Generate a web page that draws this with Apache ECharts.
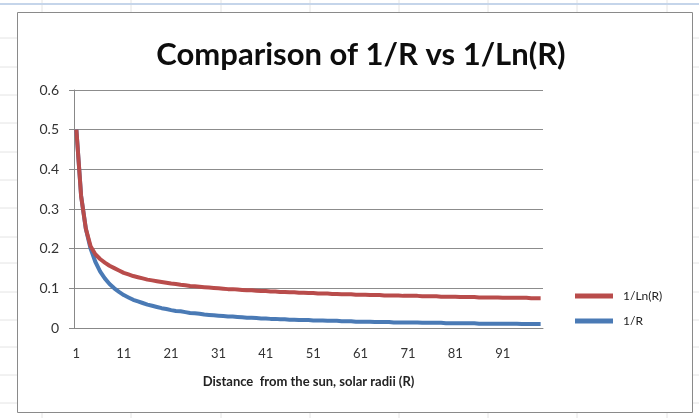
<!DOCTYPE html>
<html>
<head>
<meta charset="utf-8">
<title>Comparison of 1/R vs 1/Ln(R)</title>
<script src="https://cdn.jsdelivr.net/npm/echarts@6/dist/echarts.min.js"></script>
</head>
<body style="margin:0;padding:0;background:#fff;">
<div id="main" style="width:699px;height:418px;"></div>
<script>
// distance categories 1..99
var categories = [];
for (var i = 1; i <= 99; i++) categories.push(String(i));

var invR = [0.5,0.333,0.25,0.2,0.167,0.143,0.125,0.111,0.1,0.091,
  0.083,0.077,0.071,0.067,0.063,0.059,0.056,0.053,0.05,0.048,
  0.045,0.043,0.042,0.04,0.038,0.037,0.036,0.034,0.033,0.032,
  0.031,0.03,0.029,0.029,0.028,0.027,0.026,0.026,0.025,0.024,
  0.024,0.023,0.023,0.022,0.022,0.021,0.021,0.02,0.02,0.02,
  0.019,0.019,0.019,0.018,0.018,0.018,0.017,0.017,0.017,0.016,
  0.016,0.016,0.016,0.015,0.015,0.015,0.015,0.014,0.014,0.014,
  0.014,0.014,0.014,0.013,0.013,0.013,0.013,0.013,0.012,0.012,
  0.012,0.012,0.012,0.012,0.012,0.011,0.011,0.011,0.011,0.011,
  0.011,0.011,0.011,0.011,0.01,0.01,0.01,0.01,0.01];

var invLnR = [0.5,0.333,0.25,0.206,0.186,0.174,0.165,0.157,0.151,0.145,
  0.139,0.135,0.131,0.128,0.125,0.122,0.12,0.118,0.116,0.114,
  0.112,0.111,0.109,0.108,0.106,0.105,0.104,0.103,0.102,0.101,
  0.1,0.099,0.098,0.098,0.097,0.096,0.095,0.095,0.094,0.093,
  0.093,0.092,0.092,0.091,0.091,0.09,0.09,0.089,0.089,0.088,
  0.088,0.087,0.087,0.087,0.086,0.086,0.085,0.085,0.085,0.084,
  0.084,0.084,0.083,0.083,0.083,0.082,0.082,0.082,0.082,0.081,
  0.081,0.081,0.081,0.08,0.08,0.08,0.08,0.079,0.079,0.079,
  0.079,0.078,0.078,0.078,0.078,0.077,0.077,0.077,0.077,0.077,
  0.076,0.076,0.076,0.076,0.076,0.076,0.075,0.075,0.075];

var yTicks = [0, 0.1, 0.2, 0.3, 0.4, 0.5, 0.6];

var myChart = echarts.init(document.getElementById('main'));

// faint spreadsheet cells behind the chart
var sheet = [];
[38,67,95,123,152,180,208,237,263,292,320,347,375,403].forEach(function (y) {
    sheet.push({type:'line', z:-20, shape:{x1:0,y1:y,x2:699,y2:y}, style:{stroke:'#e4e4e4',lineWidth:1}});
});
[42,131,221,310,399,488,577,667].forEach(function (x) {
    sheet.push({type:'line', z:-20, shape:{x1:x,y1:0,x2:x,y2:418}, style:{stroke:'#e4e4e4',lineWidth:1}});
});
sheet.push({type:'line', z:-20, shape:{x1:0,y1:4,x2:699,y2:4}, style:{stroke:'#c5d5ea',lineWidth:2}});
sheet.push({type:'rect', z:-10, shape:{x:17.5,y:12.5,width:675,height:400}, style:{fill:'#fff',stroke:'#8a8a8a',lineWidth:1}});

var font = 'Lato';

var option = {
    animation: false,
    backgroundColor: '#fff',
    graphic: sheet,
    title: {
        text: 'Comparison of 1/R vs 1/Ln(R)',
        left: 356, top: 34, textAlign: 'center',
        textStyle: {fontFamily: font, fontSize: 31, fontWeight: 'bold', color: '#0d0d0d'}
    },
    legend: {
        orient: 'vertical',
        left: 575, top: 290, padding: 0,
        itemWidth: 38, itemHeight: 5, itemGap: 13,
        icon: 'rect',
        data: ['1/Ln(R)', '1/R'],
        textStyle: {fontFamily: font, fontSize: 12, color: '#222', padding: [0, 0, 0, 5]}
    },
    grid: {left: 74, right: 156, top: 90, bottom: 90},
    xAxis: {
        type: 'category',
        data: categories,
        boundaryGap: true,
        name: 'Distance  from the sun, solar radii (R)',
        nameLocation: 'middle',
        nameGap: 47,
        nameTextStyle: {fontFamily: font, fontSize: 13, fontWeight: 'bold', color: '#222'},
        axisLine: {lineStyle: {color: '#888'}},
        axisTick: {interval: 4, length: 5, lineStyle: {color: '#888'}},
        axisLabel: {interval: 9, margin: 19, fontFamily: font, fontSize: 13, color: '#333'}
    },
    yAxis: {
        type: 'value',
        min: yTicks[0], max: yTicks[yTicks.length - 1], interval: 0.1,
        axisLine: {show: true, lineStyle: {color: '#888'}},
        axisTick: {show: true, length: 5, lineStyle: {color: '#888'}},
        axisLabel: {margin: 15, fontFamily: font, fontSize: 14, color: '#333'},
        splitLine: {lineStyle: {color: '#8c8c8c', width: 1}}
    },
    series: [
        {name: '1/R', type: 'line', data: invR, showSymbol: false, symbol: 'none',
         lineStyle: {width: 4, color: '#4a7ab5'}, itemStyle: {color: '#4a7ab5'}},
        {name: '1/Ln(R)', type: 'line', data: invLnR, showSymbol: false, symbol: 'none',
         lineStyle: {width: 4, color: '#b94c4b'}, itemStyle: {color: '#b94c4b'}}
    ]
};
myChart.setOption(option);
</script>
</body>
</html>
